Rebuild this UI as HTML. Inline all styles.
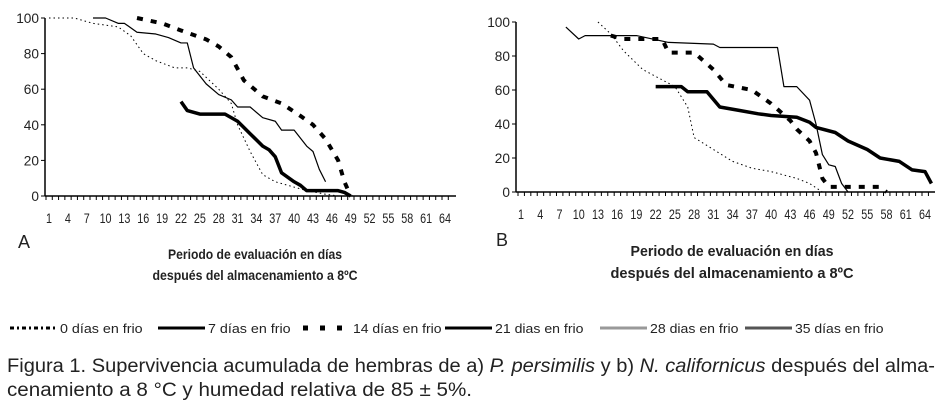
<!DOCTYPE html>
<html><head><meta charset="utf-8"><style>
html,body{margin:0;padding:0;background:#fff;}
svg{display:block;font-family:"Liberation Sans",sans-serif;}
</style></head><body>
<svg id="fig" width="945" height="412" viewBox="0 0 945 412">
<g id="panelA"></g>
<g id="panelB"></g>
<g id="legend"></g>
<text x="7" y="372" font-size="19" textLength="928" lengthAdjust="spacingAndGlyphs" fill="#222">Figura 1. Supervivencia acumulada de hembras de a) <tspan font-style="italic">P. persimilis</tspan> y b) <tspan font-style="italic">N. californicus</tspan> después del alma-</text>
<text x="7" y="396" font-size="19" textLength="465" lengthAdjust="spacingAndGlyphs" fill="#222">cenamiento a 8 °C y humedad relativa de 85 ± 5%.</text>
</svg>
<script>
// Panel A data: [day, % survival]
const a0 = [[1,100],[5,100],[8,97],[12,95],[14,90],[16,80],[18,76],[21,72],[23,72],[25,70],[28,60],[30,52],[31,40],[33,25],[35,12],[37,8],[40,5],[42,3],[45,1],[47,0]];
const a7 = [[8,100],[10,100],[12,97],[13,97],[15,92],[18,91],[20,89],[22,86],[23,86],[24,72],[26,63],[28,57],[30,54],[31,50],[33,50],[35,44],[37,42],[38,37],[40,37],[42,28],[43,25],[44,15],[45,8]];
const a14 = [[15,100],[19,97],[22,93],[26,88],[28,84],[30,78],[32,65],[35,56],[38,52],[41,45],[43,40],[45,32],[47,20],[48,8],[49,0]];
const a21 = [[22,53],[23,48],[25,46],[29,46],[31,42],[33,35],[35,28],[36,26],[37,22],[38,13],[40,8],[41,6],[42,3],[47,3],[48,2],[49,0]];
// Panel B data
const b0 = [[13,100],[15,93],[17,83],[20,72],[22,68],[25,62],[27,50],[28,32],[31,25],[34,18],[37,14],[40,12],[44,8],[46,5],[48,0]];
const b7 = [[8,97],[10,90],[11,92],[19,92],[24,88],[31,87],[32,85],[41,85],[42,62],[44,62],[46,54],[47,40],[48,22],[49,16],[50,15],[51,5],[52,0]];
const b14 = [[15,92],[17,90],[23,90],[24,82],[28,82],[31,72],[33,63],[37,60],[40,52],[43,42],[44,37],[46,30],[47,23],[48,8],[49,3],[57,3],[58,0]];
const b21 = [[22,62],[26,62],[27,59],[30,59],[32,50],[35,48],[38,46],[40,45],[44,44],[46,41],[47,38],[50,35],[52,30],[55,25],[57,20],[60,18],[62,13],[64,12],[65,5]];
const yTicks = [0,20,40,60,80,100];
const xTickLabels = [1,4,7,10,13,16,19,22,25,28,31,34,37,40,43,46,49,52,55,58,61,64];

const NS = "http://www.w3.org/2000/svg";
function mk(tag, attrs, parent){const e=document.createElementNS(NS,tag);for(const k in attrs)e.setAttribute(k,attrs[k]);parent.appendChild(e);return e;}

function panel(g, cfg, series, label){
  const xs = d => cfg.x1 + (d-1)*(cfg.x64-cfg.x1)/63;
  const ys = v => cfg.y0 - v*(cfg.y0-cfg.y100)/100;
  const ya = mk('line',{x1:cfg.ax,y1:cfg.y100,x2:cfg.ax,y2:cfg.y0,stroke:'#000','stroke-width':1.5},g);
  
  
  const xa = mk('line',{x1:cfg.ax,y1:cfg.y0,x2:cfg.axEnd,y2:cfg.y0,stroke:'#000','stroke-width':1.5},g);
  
  
  for(let d=1; xs(d)<=cfg.axEnd; d++){
    const t=mk('line',{x1:xs(d)-3,y1:cfg.y0,x2:xs(d)-3,y2:cfg.y0+4,stroke:'#000','stroke-width':1},g);
    
    
  }
  yTicks.forEach(v=>{
    const tk=mk('line',{x1:cfg.ax-4,y1:ys(v),x2:cfg.ax,y2:ys(v),stroke:'#000'},g);
    
    
    const s=String(v);
    const t=mk('text',{x:cfg.ax-6,y:ys(v)+5,'text-anchor':'end','font-size':14,fill:'#222',textLength:s.length*7.6,lengthAdjust:'spacingAndGlyphs'},g);
    t.textContent=v;
    
    
  });
  xTickLabels.forEach(d=>{
    const s=String(d);
    const t=mk('text',{x:xs(d),y:cfg.y0+27,'text-anchor':'middle','font-size':14,fill:'#222',textLength:s.length*6,lengthAdjust:'spacingAndGlyphs'},g);
    t.textContent=d;
    
    
  });
  series.forEach(s=>{
    const p=mk('polyline',{points:s.data.map(q=>xs(q[0])+','+ys(q[1])).join(' '),fill:'none',stroke:'#000','stroke-width':s.w,'stroke-dasharray':s.dash||'none','stroke-linejoin':'round'},g);
    
    
  });
  const L=mk('text',{x:cfg.lx,y:cfg.ly,'font-size':18,fill:'#222'},g);
  L.textContent=label;
  
  
  const t1=mk('text',{x:cfg.tx,y:cfg.ty,'text-anchor':'middle','font-size':cfg.tf,'font-weight':'bold',fill:'#222',textLength:cfg.w1,lengthAdjust:'spacingAndGlyphs'},g);
  t1.textContent='Periodo de evaluación en días';
  
  
  const t2=mk('text',{x:cfg.tx,y:cfg.ty2,'text-anchor':'middle','font-size':cfg.tf,'font-weight':'bold',fill:'#222',textLength:cfg.w2,lengthAdjust:'spacingAndGlyphs'},g);
  t2.textContent='después del almacenamiento a 8ºC';
  
  
}

panel(document.getElementById('panelA'),
  {ax:45,axEnd:456,x1:49,x64:445,y0:196,y100:18,lx:18,ly:248,tx:255,ty:259,ty2:280,tf:14,w1:174,w2:205},
  [{data:a0,w:1,dash:'1.5 3',name:'series-a-0-dias'},
   {data:a7,w:1.2,name:'series-a-7-dias'},
   {data:a14,w:4,dash:'6 8',name:'series-a-14-dias'},
   {data:a21,w:3.5,name:'series-a-21-dias'}],'A');
panel(document.getElementById('panelB'),
  {ax:516,axEnd:935,x1:521,x64:925,y0:192,y100:22,lx:496,ly:246,tx:732,ty:256,ty2:278,tf:15,w1:203,w2:243},
  [{data:b0,w:1,dash:'1.5 3',name:'series-b-0-dias'},
   {data:b7,w:1.2,name:'series-b-7-dias'},
   {data:b14,w:4,dash:'6 8',name:'series-b-14-dias'},
   {data:b21,w:3.5,name:'series-b-21-dias'}],'B');

const legNames = ['0 días en frio','7 días en frio','14 días en frio','21 dias en frio','28 dias en frio','35 días en frio'];
const legLineX = [10,158,303,445,600,745];
const legStyles = [{c:'#000',w:3,d:'4 3 2 3'},{c:'#000',w:3,d:''},{c:'#000',w:5,d:'5 12'},{c:'#000',w:3,d:''},{c:'#999',w:3,d:''},{c:'#555',w:3,d:''}];
const lg=document.getElementById('legend');
legNames.forEach((n,i)=>{
  const s=legStyles[i];
  const l=mk('line',{x1:legLineX[i],y1:328,x2:legLineX[i]+47,y2:328,stroke:s.c,'stroke-width':s.w,'stroke-dasharray':s.d||'none'},lg);
  
  
  const t=mk('text',{x:legLineX[i]+50,y:333,'font-size':13,textLength:n.length*5.9,lengthAdjust:'spacingAndGlyphs',fill:'#222'},lg);
  t.textContent=n;
  
  
});
</script>
</body></html>
